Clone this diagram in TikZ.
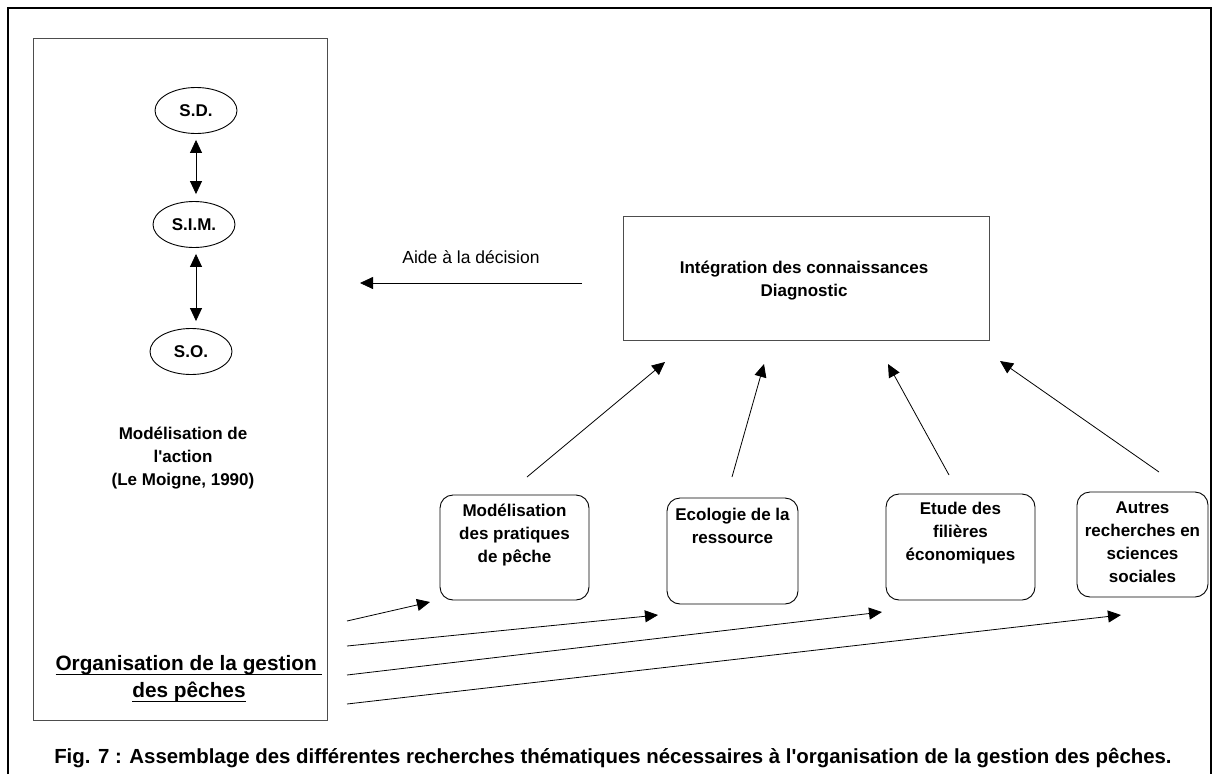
\documentclass[tikz,border=0pt]{standalone}
\usepackage{fontspec}
\setmainfont{Liberation Sans}
\usetikzlibrary{arrows.meta,positioning,shapes.geometric}
\definecolor{ink}{HTML}{000000}
\definecolor{edgeGray}{HTML}{4D4D4D}
% thick underline, drawn just under the baseline
\newcommand{\thickul}[1]{\leavevmode\vtop{\setbox0\hbox{#1}\dp0=0pt\box0\kern3pt\hrule height 1.8pt}}

\begin{document}
\begin{tikzpicture}[x=1pt,y=-1pt,font=\fontsize{17}{23}\selectfont\bfseries,>={Triangle[length=13pt,width=12pt]},
  sysnode/.style={ellipse,draw=ink,line width=0.9pt,minimum width=82pt,minimum height=46pt,inner sep=0pt},
  resbox/.style={draw=ink,line width=0.9pt,rounded corners=13pt,inner sep=0pt},
  boxlbl/.style={anchor=north,align=center,inner sep=0pt},
  link/.style={ink,line width=0.8pt}]
\useasboundingbox (0,0) rectangle (1218,774);
% outer frame (open at the bottom)
\draw[line width=2.6pt] (8,774) -- (8,8) -- (1211,8) -- (1211,774);
% left panel : modelling of the action
\node[draw=edgeGray,line width=1pt,minimum width=294pt,minimum height=682pt,inner sep=0pt] (panel) at (180,379) {};
\node[sysnode] (sd)  at (196,110.5) {S.D.};
\node[sysnode] (sim) at (194,224.5) {S.I.M.};
\node[sysnode] (so)  at (191,351.5) {S.O.};
\draw[link,<->,shorten <=6pt,shorten >=7pt] (sd.south) -- (sd.south|-sim.north);
\draw[link,<->,shorten <=6pt,shorten >=7pt] (sd.south|-sim.south) -- (sd.south|-so.north);
\node[align=center] (action) at (183,458) {Modélisation de\\l\textquotesingle action\\(Le Moigne, 1990)};
\node[align=center,font=\fontsize{20.8}{27}\selectfont\bfseries] (orga) at (189,679) {\thickul{Organisation de la gestion }\\\thickul{des pêches}};
% integration box
\node[draw=edgeGray,line width=1pt,minimum width=366pt,minimum height=124pt,inner sep=0pt] (integ) at (806,278) {};
\node[boxlbl] (integlbl) at (804,261) {Intégration des connaissances\\Diagnostic};
\coordinate (aideA) at (582,283);
\coordinate (aideB) at (360,283);
\draw[link,->] (aideA) -- (aideB) node[midway,above=20pt,anchor=base,font=\fontsize{17.5}{20}\selectfont\mdseries] (aide) {Aide à la décision};
% thematic research boxes
\node[resbox,minimum width=149pt,minimum height=105pt] (prat) at (514.5,547.5) {};
\node[boxlbl] at ([yshift=-9pt]prat.north) {Modélisation\\des pratiques\\de pêche};
\node[resbox,minimum width=131pt,minimum height=106pt] (eco) at (732.5,551) {};
\node[boxlbl] at ([yshift=-10pt]eco.north) {Ecologie de la\\ressource};
\node[resbox,minimum width=149pt,minimum height=106pt] (fil) at (960.5,547) {};
\node[boxlbl] at ([yshift=-8pt]fil.north) {Etude des\\filières\\économiques};
\node[resbox,minimum width=131pt,minimum height=105pt] (soc) at (1142.5,544.5) {};
\node[boxlbl] at ([yshift=-10pt]soc.north) {Autres\\recherches en\\sciences\\sociales};
% arrows up to the integration box
\coordinate (u1) at (527,477);  \coordinate (v1) at (665,362);
\coordinate (u2) at (732,477);  \coordinate (v2) at (764,364);
\coordinate (u3) at (949,475);  \coordinate (v3) at (888,364);
\coordinate (u4) at (1159,472); \coordinate (v4) at (1000,361);
\draw[link,->] (u1) -- (v1);
\draw[link,->] (u2) -- (v2);
\draw[link,->] (u3) -- (v3);
\draw[link,->] (u4) -- (v4);
% arrows from the organisation of fisheries management
\coordinate (o1) at (347,621); \coordinate (t1) at (430,602);
\coordinate (o2) at (347,646); \coordinate (t2) at (658,615);
\coordinate (o3) at (347,675); \coordinate (t3) at (882,612);
\coordinate (o4) at (347,704); \coordinate (t4) at (1121,615);
\draw[link,->] (o1) -- (t1);
\draw[link,->] (o2) -- (t2);
\draw[link,->] (o3) -- (t3);
\draw[link,->] (o4) -- (t4);
% caption
\node[font=\fontsize{20.4}{22}\selectfont\bfseries] (caption) at (613,758) {Fig. 7 : Assemblage des différentes recherches thématiques nécessaires à l\textquotesingle organisation de la gestion des pêches.};
\end{tikzpicture}
\end{document}
